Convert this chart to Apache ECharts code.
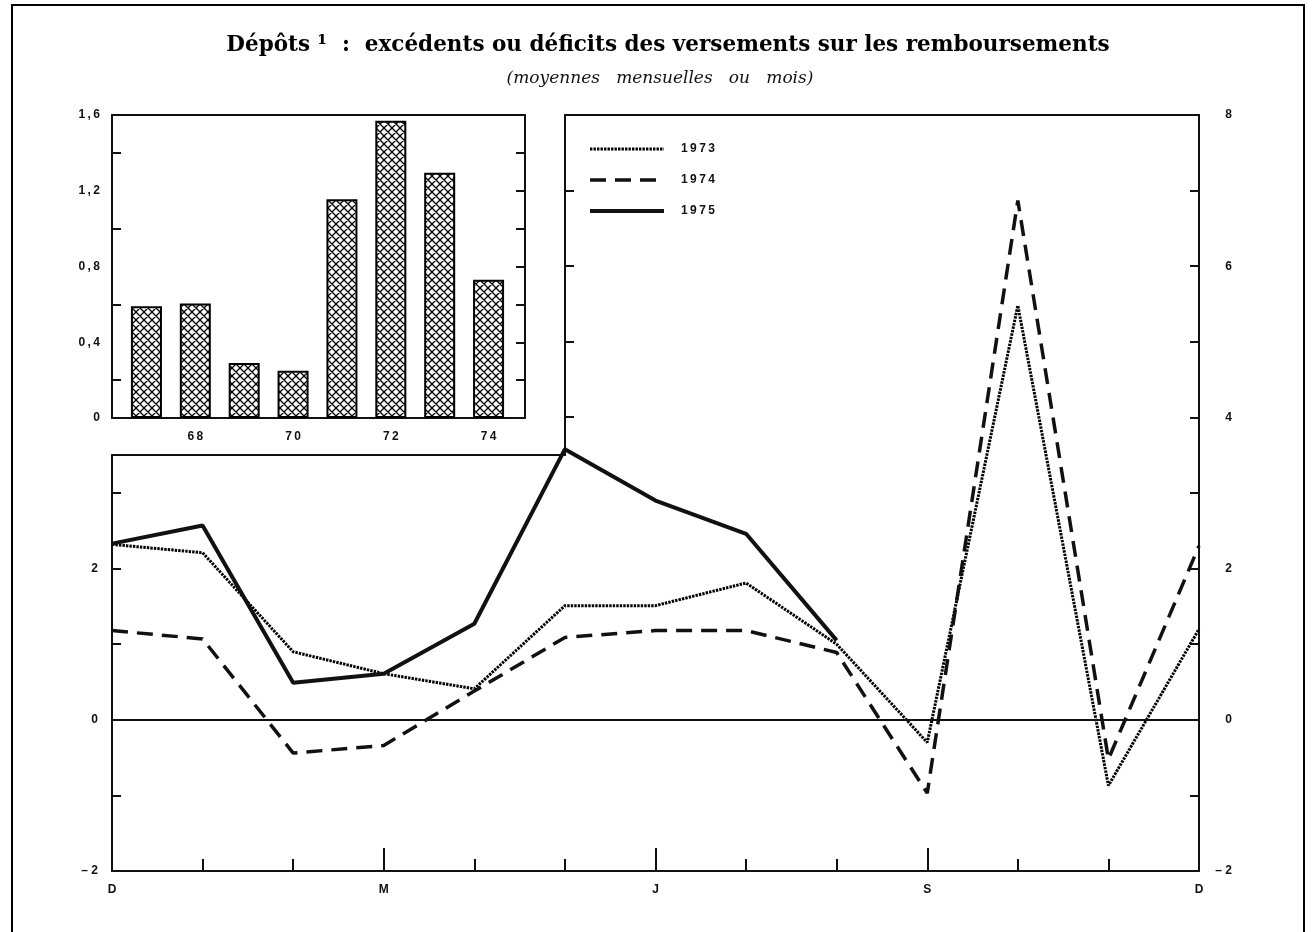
<!DOCTYPE html>
<html>
<head>
<meta charset="utf-8">
<script src="https://cdn.jsdelivr.net/npm/echarts@6/dist/echarts.min.js"></script>
<style>
  html, body { margin: 0; padding: 0; background: #fff; }
  #wrap { position: relative; width: 1313px; height: 932px; overflow: hidden; }
  #frame { position: absolute; left: 11px; top: 4px; width: 1294px; height: 1000px;
           border: 2.5px solid #000; box-sizing: border-box; pointer-events: none; }
  #chart { position: absolute; left: 0; top: 0; width: 1313px; height: 932px; }
</style>
</head>
<body>
<div id="wrap">
  <div id="frame"></div>
  <div id="chart"></div>
</div>
<script>
// Monthly excess (+) or deficit (-) of deposits over withdrawals, Dec to Dec
const months = ['D', 'J', 'F', 'M', 'A', 'M', 'J', 'J', 'A', 'S', 'O', 'N', 'D'];
const labelledMonths = [0, 3, 6, 9, 12];
const s1973 = [2.32, 2.21, 0.90, 0.61, 0.41, 1.51, 1.51, 1.81, 1.00, -0.30, 5.48, -0.87, 1.20];
const s1974 = [1.18, 1.07, -0.44, -0.34, 0.38, 1.09, 1.18, 1.18, 0.89, -0.97, 6.87, -0.52, 2.30];
const s1975 = [2.33, 2.57, 0.49, 0.61, 1.27, 3.58, 2.90, 2.46, 1.05, null, null, null, null];

// Inset: yearly averages of the monthly balance
const years = ['67', '68', '69', '70', '71', '72', '73', '74'];
const yearAverages = [0.59, 0.605, 0.29, 0.25, 1.155, 1.57, 1.295, 0.73];
const insetTicks = [0, 0.4, 0.8, 1.2, 1.6];

const INK = '#111';
const SANS = 'Liberation Sans';
const spaced = s => String(s).split('').join('\u2009');
const signed = v => (v < 0 ? '\u2013 ' + Math.abs(v) : String(v));

// line styles shared by each series and its legend entry
const style1973 = { color: '#000', width: 3, type: [2.4, 1.1] };
const style1974 = { color: INK, width: 3.5, type: [16, 9] };
const style1975 = { color: INK, width: 4, type: 'solid' };

// cross-hatch fill for the inset bars
function hatch() {
  const n = 8;
  const c = document.createElement('canvas');
  c.width = c.height = n;
  const g = c.getContext('2d');
  g.fillStyle = '#fff';
  g.fillRect(0, 0, n, n);
  g.strokeStyle = '#000';
  g.lineWidth = 1.3;
  g.beginPath();
  g.moveTo(0, 0); g.lineTo(n, n);
  g.moveTo(-1, n - 1); g.lineTo(1, n + 1);
  g.moveTo(n - 1, -1); g.lineTo(n + 1, 1);
  g.moveTo(n, 0); g.lineTo(0, n);
  g.moveTo(-1, 1); g.lineTo(1, -1);
  g.moveTo(n - 1, n + 1); g.lineTo(n + 1, n - 1);
  g.stroke();
  return c;
}

const axisLine = { show: true, onZero: false, lineStyle: { color: INK, width: 2 } };
const noLine = { show: false, onZero: false };
const labelFont = { color: INK, fontFamily: SANS, fontWeight: 'bold', fontSize: 12 };
const frameX = (gridIndex, position) => ({
  gridIndex, type: 'value', min: 0, max: 1, position,
  axisLine, axisTick: { show: false }, axisLabel: { show: false }, splitLine: { show: false }
});

const chart = echarts.init(document.getElementById('chart'), null, { renderer: 'canvas' });

chart.setOption({
  animation: false,
  backgroundColor: 'transparent',
  title: [
    {
      text: 'Dépôts \u00b9  :  excédents ou déficits des versements sur les remboursements',
      left: 663, top: 29, textAlign: 'center',
      textStyle: { fontFamily: 'DejaVu Serif', fontWeight: 'bold', fontSize: 21.5, color: '#000' }
    },
    {
      text: '(moyennes   mensuelles   ou   mois)',
      left: 655, top: 65, textAlign: 'center',
      textStyle: { fontFamily: 'DejaVu Serif', fontStyle: 'italic', fontWeight: 'normal', fontSize: 17, color: INK }
    }
  ],
  legend: {
    orient: 'vertical',
    left: 583, top: 138,
    itemWidth: 74, itemHeight: 12, itemGap: 19,
    itemStyle: { opacity: 0 },
    data: [
      { name: '1973', lineStyle: style1973 },
      { name: '1974', lineStyle: style1974 },
      { name: '1975', lineStyle: style1975 }
    ],
    formatter: spaced,
    textStyle: { color: INK, fontFamily: SANS, fontWeight: 'bold', fontSize: 12, padding: [0, 0, 0, 12] }
  },
  grid: [
    { left: 112, right: 114, top: 115, bottom: 61 },          // main plot
    { left: 112, width: 453, top: 455, bottom: 61 },          // lower-left frame
    { left: 565, right: 114, top: 115, height: 340 },         // upper-right frame
    { left: 112, width: 413, top: 115, height: 303 },         // inset frame
    { left: 122, width: 391, top: 115, height: 303 }          // inset bars
  ],
  xAxis: [
    {
      gridIndex: 0, type: 'category', data: months, boundaryGap: false, position: 'bottom',
      axisLine: axisLine,
      axisTick: { show: true, inside: true, length: 12, interval: 0, lineStyle: { color: INK, width: 2 } },
      axisLabel: { ...labelFont, margin: 13, interval: i => labelledMonths.includes(i) },
      splitLine: { show: false }
    },
    {
      gridIndex: 0, type: 'category', data: months, boundaryGap: false, position: 'bottom',
      axisLine: noLine,
      axisTick: { show: true, inside: true, length: 23, interval: i => i % 3 === 0, lineStyle: { color: INK, width: 2 } },
      axisLabel: { show: false }, splitLine: { show: false }
    },
    frameX(1, 'top'),
    frameX(2, 'top'),
    frameX(3, 'bottom'),
    frameX(3, 'top'),
    {
      gridIndex: 4, type: 'category', data: years, boundaryGap: true,
      axisLine: noLine, axisTick: { show: false }, splitLine: { show: false },
      axisLabel: { ...labelFont, margin: 13, interval: i => i % 2 === 1, formatter: spaced }
    }
  ],
  yAxis: [
    {
      gridIndex: 0, type: 'value', min: -2, max: 8, interval: 1, position: 'right',
      axisLine: axisLine,
      axisTick: { show: true, inside: true, length: 9, lineStyle: { color: INK, width: 2 } },
      axisLabel: {
        ...labelFont, align: 'right', margin: 33,
        formatter: v => (v % 2 === 0 ? signed(v) : '')
      },
      splitLine: { show: false }
    },
    {
      gridIndex: 1, type: 'value', min: -2, max: 3.5, interval: 1, position: 'left',
      axisLine: axisLine,
      axisTick: { show: true, inside: true, length: 9, customValues: [-2, -1, 0, 1, 2, 3], lineStyle: { color: INK, width: 2 } },
      axisLabel: { ...labelFont, margin: 14, customValues: [-2, 0, 2], formatter: signed },
      splitLine: { show: false }
    },
    {
      gridIndex: 2, type: 'value', min: 3.5, max: 8, position: 'left',
      axisLine: axisLine,
      axisTick: { show: true, inside: true, length: 9, customValues: [4, 5, 6, 7], lineStyle: { color: INK, width: 2 } },
      axisLabel: { show: false }, splitLine: { show: false }
    },
    {
      gridIndex: 3, type: 'value', min: 0, max: 1.6, interval: 0.2, position: 'left',
      axisLine: axisLine,
      axisTick: { show: true, inside: true, length: 9, customValues: [0.2, 0.6, 1.0, 1.4], lineStyle: { color: INK, width: 2 } },
      axisLabel: {
        ...labelFont, margin: 12, customValues: insetTicks,
        formatter: v => (v === 0 ? '0' : spaced(v.toFixed(1).replace('.', ',')))
      },
      splitLine: { show: false }
    },
    {
      gridIndex: 3, type: 'value', min: 0, max: 1.6, interval: 0.2, position: 'right',
      axisLine: axisLine,
      axisTick: { show: true, inside: true, length: 9, lineStyle: { color: INK, width: 2 } },
      axisLabel: { show: false }, splitLine: { show: false }
    },
    {
      gridIndex: 4, type: 'value', min: 0, max: 1.6, show: false
    }
  ],
  series: [
    {
      name: '1973', type: 'line', xAxisIndex: 0, yAxisIndex: 0, data: s1973,
      symbol: 'none', itemStyle: { color: INK },
      lineStyle: style1973,
      markLine: {
        silent: true, symbol: 'none', label: { show: false },
        lineStyle: { color: INK, width: 1.8, type: 'solid' },
        data: [{ yAxis: 0 }]
      },
      z: 3
    },
    {
      name: '1974', type: 'line', xAxisIndex: 0, yAxisIndex: 0, data: s1974,
      symbol: 'none', itemStyle: { color: INK },
      lineStyle: style1974,
      z: 4
    },
    {
      name: '1975', type: 'line', xAxisIndex: 0, yAxisIndex: 0, data: s1975,
      symbol: 'none', itemStyle: { color: INK },
      lineStyle: style1975,
      z: 5
    },
    {
      name: 'moyennes', type: 'bar', xAxisIndex: 6, yAxisIndex: 5, data: yearAverages,
      barWidth: 31,
      itemStyle: { color: { image: hatch(), repeat: 'repeat' }, borderColor: '#000', borderWidth: 2 }
    }
  ]
});
</script>
</body>
</html>
